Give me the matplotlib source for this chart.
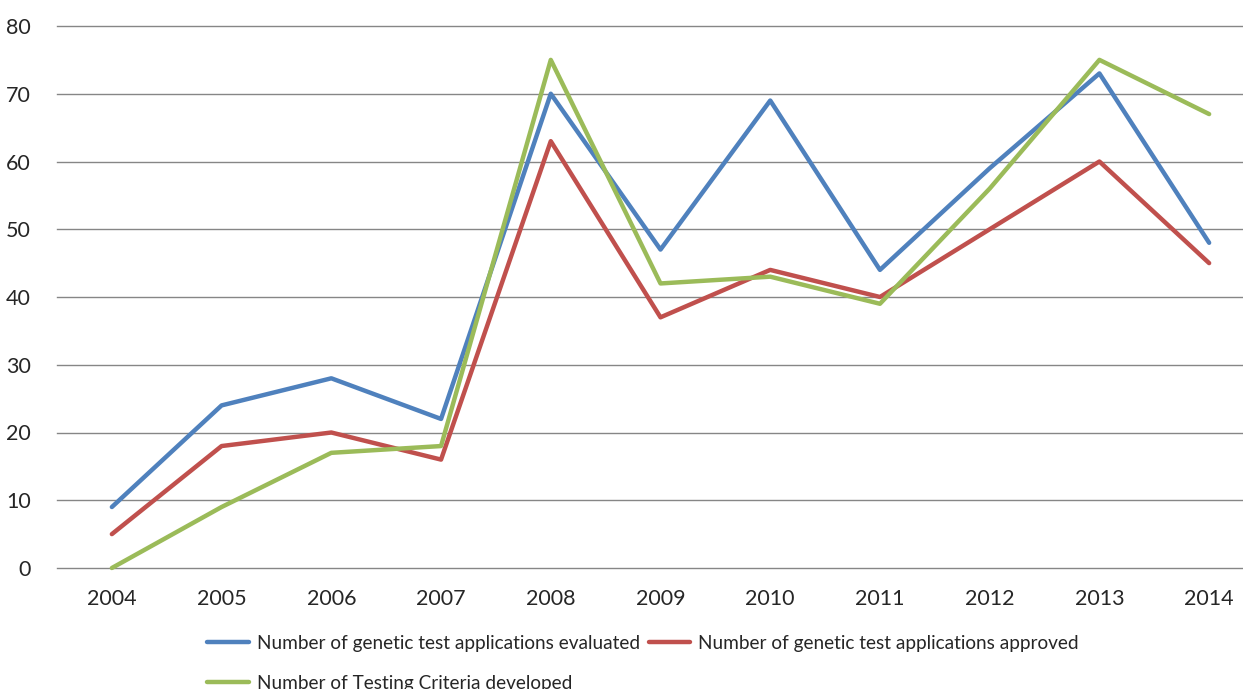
import numpy as np
import matplotlib
matplotlib.use('Agg')
import matplotlib.pyplot as plt

plt.rcParams['font.family'] = ['Lato', 'DejaVu Sans']

years = ['2004', '2005', '2006', '2007', '2008', '2009', '2010', '2011', '2012', '2013', '2014']
evaluated = [9, 24, 28, 22, 70, 47, 69, 44, 59, 73, 48]
approved = [5, 18, 20, 16, 63, 37, 44, 40, 50, 60, 45]
criteria = [0, 9, 17, 18, 75, 42, 43, 39, 56, 75, 67]

lab_eval = 'Number of genetic test applications evaluated'
lab_appr = 'Number of genetic test applications approved'
lab_crit = 'Number of Testing Criteria developed'

BLUE, RED, GREEN = '#4F81BD', '#C0504D', '#9BBB59'
W, H = 1243, 689

fig = plt.figure(figsize=(W / 100, H / 100), dpi=100)
# plot area runs past the right edge of the picture, as in the cropped original
ax = fig.add_axes([57 / W, 1 - 568 / H, 1207 / W, 542 / H])

x = np.arange(len(years))
kw = dict(lw=3.2, solid_joinstyle='round', solid_capstyle='round', clip_on=False, zorder=3)
l1, = ax.plot(x, evaluated, color=BLUE, label=lab_eval, **kw)
l2, = ax.plot(x, approved, color=RED, label=lab_appr, **kw)
l3, = ax.plot(x, criteria, color=GREEN, label=lab_crit, **kw)

ax.set_xlim(-0.5, len(years) - 0.5)
ax.set_ylim(0, 80)
ax.set_yticks(np.arange(0, 81, 10))
ax.set_xticks(x)
ax.set_xticklabels(years)
for yv in range(0, 81, 10):
    ax.axhline(yv, color='#868686', lw=1.0, zorder=1, clip_on=False)
for s in ax.spines.values():
    s.set_visible(False)
ax.tick_params(axis='both', length=0, labelsize=15.5, colors='#262626')
ax.tick_params(axis='y', pad=19)
ax.tick_params(axis='x', pad=15)

# legend flows like Excel: blue, red on the first row, green on the second
fig.legend([l1, l3, l2], [lab_eval, lab_crit, lab_appr], ncol=2,
           loc='upper left', bbox_to_anchor=(207 / W, 1 - 635 / H),
           frameon=False, fontsize=13.7, handlelength=2.2, handletextpad=0.42,
           columnspacing=0.45, labelspacing=1.2, borderpad=0, borderaxespad=0,
           labelcolor='#262626')

fig.savefig('out.png', dpi=100)
